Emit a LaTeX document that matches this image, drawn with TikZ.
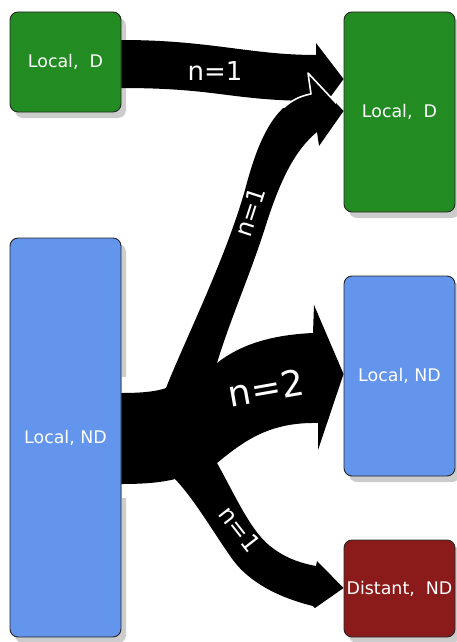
\documentclass[tikz,border=0pt]{standalone}
\usepackage{fontspec}
\setmainfont{DejaVu Sans}
\usetikzlibrary{shadows}
\definecolor{gD}{HTML}{228B22}
\definecolor{bND}{HTML}{6495ED}
\definecolor{rDist}{HTML}{8B1A1A}
\begin{document}
\begin{tikzpicture}[x=1pt,y=-1pt,
  box/.style={draw=black!85, line width=0.9pt, rounded corners=8pt, inner sep=0pt,
    minimum width=111pt, text=white, font=\fontsize{17.4}{20}\selectfont,
    drop shadow={shadow xshift=5pt, shadow yshift=-6pt, fill=black!20, opacity=1}},
  flow/.style={fill=black},
  lab/.style={text=white, inner sep=0pt}]
\useasboundingbox (0,0) rectangle (456,642);
% boxes
\node[box, fill=gD, minimum height=100pt] (tlD) at (65.5,62) {Local,\ \ D};
\node[box, fill=gD, minimum height=200pt] (trD) at (399.5,112) {Local,\ \ D};
\node[box, fill=bND, minimum height=399pt] (lND) at (65.5,437.5) {Local, ND};
\node[box, fill=bND, minimum height=200pt] (rND) at (399.5,376) {Local, ND};
\node[box, fill=rDist, minimum height=97pt] (rDi) at (399.5,588.5) {Distant,\ \ ND};
% gap in the shadow beside the trunk
\fill[white] (122,377) rectangle (130,498);
% arrow tips on the target boxes
\coordinate (t1) at (trD.west |- 0,79);
\coordinate (t2) at (trD.west |- 0,111);
\coordinate (t3) at (rND.west |- 0,374);
\coordinate (t4) at (rDi.west |- 0,588);
% arrow 1 : top Local D -> Local D
\fill[flow] (tlD.east |- 0,40) .. controls (210,40) and (250,55) .. (316,55) -- (316,43) -- (t1)
  -- (318,114) -- (318,101) .. controls (230,101) and (220,88) .. (tlD.east |- 0,88) -- cycle;
% arrow 2 : Local ND -> Local D
\fill[flow] (166,388) .. controls (185,340) and (225,260) .. (245,190)
  .. controls (258,140) and (275,100) .. (311,94) -- (308,73) -- (t2) -- (319,146) -- (317,132)
  .. controls (295,150) and (280,180) .. (265,228) .. controls (250,275) and (230,320) .. (217,363)
  -- (200,430) -- (150,430) -- (150,400) -- cycle;
\begin{scope}
\clip (275,60) rectangle (336,107);
\draw[white, line width=1.6pt, line join=round] (166,388) .. controls (185,340) and (225,260) .. (245,190)
  .. controls (258,140) and (275,100) .. (311,94) -- (308,73) -- (t2) -- (319,146);
\end{scope}
% trunk
\fill[flow] (lND.east |- 0,393) .. controls (145,393) and (158,391) .. (166,388) -- (217,363)
  -- (217,463) -- (175,479) .. controls (160,483) and (140,484) .. (lND.east |- 0,484) -- cycle;
% arrow 3 : Local ND -> Local ND
\fill[flow] (217,363) .. controls (240,345) and (270,335) .. (313,333) -- (314,305) -- (t3)
  -- (318,450) -- (318,423) .. controls (270,422) and (245,440) .. (217,463)
  -- (190,450) -- (190,380) -- cycle;
% arrow 4 : Local ND -> Distant ND
\fill[flow] (217,463) .. controls (235,495) and (250,530) .. (270,546)
  .. controls (285,558) and (300,563) .. (316,566) -- (317,561) -- (t4) -- (315,608) -- (313,606)
  .. controls (280,598) and (250,583) .. (233,560) .. controls (215,535) and (195,500) .. (175,479)
  -- (190,440) -- cycle;
% labels
\node[lab, font=\fontsize{26}{30}\selectfont] (l1) at (215,71) {n=1};
\node[lab, rotate=72, font=\fontsize{24}{28}\selectfont] (l2) at (250,212) {n=1};
\node[lab, rotate=10, font=\fontsize{36}{40}\selectfont] (l3) at (266,388) {n=2};
\node[lab, rotate=-52, font=\fontsize{24}{28}\selectfont] (l4) at (240,529) {n=1};
\end{tikzpicture}
\end{document}
